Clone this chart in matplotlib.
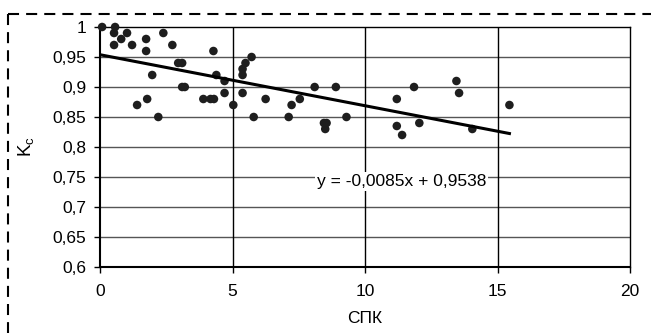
import matplotlib
matplotlib.use('Agg')
import numpy as np
import matplotlib.pyplot as plt
from matplotlib.lines import Line2D

plt.rcParams['font.family'] = ['Liberation Sans', 'DejaVu Sans']

# SPK values and Kc
spk = [0.08, 0.57, 0.53, 1.02, 0.80, 0.53, 1.21, 1.74, 1.74, 2.39, 2.73,
       1.97, 2.95, 3.10, 3.10, 3.20, 1.78, 1.40, 2.20, 3.90, 4.17, 4.30,
       4.28, 4.39, 4.70, 4.70, 5.03, 5.38, 5.38, 5.38, 5.49, 5.72, 5.80,
       6.25, 7.12, 7.23, 7.54, 8.10, 8.90, 8.45, 8.55, 8.50, 9.30, 11.20,
       11.85, 11.20, 11.40, 12.05, 13.45, 13.55, 14.05, 15.45]
kc = [1.00, 1.00, 0.99, 0.99, 0.98, 0.97, 0.97, 0.98, 0.96, 0.99, 0.97,
      0.92, 0.94, 0.94, 0.90, 0.90, 0.88, 0.87, 0.85, 0.88, 0.88, 0.88,
      0.96, 0.92, 0.91, 0.89, 0.87, 0.89, 0.92, 0.93, 0.94, 0.95, 0.85,
      0.88, 0.85, 0.87, 0.88, 0.90, 0.90, 0.84, 0.84, 0.83, 0.85, 0.88,
      0.90, 0.835, 0.82, 0.84, 0.91, 0.89, 0.83, 0.87]

slope = -0.0085
intercept = 0.9538
eq_label = 'y = -0,0085x + 0,9538'

xticks = [0, 5, 10, 15, 20]
yticks = [0.6, 0.65, 0.7, 0.75, 0.8, 0.85, 0.9, 0.95, 1.0]
ylabels = ['0,6', '0,65', '0,7', '0,75', '0,8', '0,85', '0,9', '0,95', '1']

fs = 12.5

fig = plt.figure(figsize=(6.51, 3.33), dpi=100)
ax = fig.add_axes([100/651, 1-267/333, 530/651, 240/333])

for y in yticks[1:-1]:
    ax.axhline(y, color='#555555', lw=1, zorder=1)
for x in xticks[1:-1]:
    ax.axvline(x, color='black', lw=1, zorder=1)

ax.scatter(spk, kc, s=38, color='#1e1e1e', edgecolor='none', zorder=3, clip_on=False)

xs = np.array([min(spk), max(spk)])
ax.plot(xs, slope*xs + intercept, color='black', lw=2.2, zorder=4)

ax.text(8.18, 0.742, eq_label, fontsize=fs, ha='left', va='center',
        bbox=dict(facecolor='white', edgecolor='none', pad=1.5), zorder=5)

ax.set_xlim(0, 20)
ax.set_ylim(0.6, 1.0)
ax.set_xticks(xticks)
ax.set_yticks(yticks)
ax.set_yticklabels(ylabels)
ax.tick_params(direction='out', length=4, width=1, labelsize=fs, colors='black')
ax.tick_params(axis='x', pad=8)
ax.tick_params(axis='y', pad=6)
for s in ['left', 'bottom']:
    ax.spines[s].set_linewidth(1.5)
for s in ['top', 'right']:
    ax.spines[s].set_linewidth(1)

ax.set_xlabel('СПК', fontsize=fs, labelpad=9)
ax.set_ylabel(r'K$_\mathregular{c}$', fontsize=fs + 1, labelpad=11)

# dashed frame
fig.add_artist(Line2D([8/651, 1], [1-14/333, 1-14/333], transform=fig.transFigure,
                      color='black', lw=1.5, linestyle=(0, (5.3, 3.4))))
fig.add_artist(Line2D([8/651, 8/651], [1-14/333, 0], transform=fig.transFigure,
                      color='black', lw=1.5, linestyle=(0, (5.3, 3.4))))

fig.savefig('out.png', dpi=100)
